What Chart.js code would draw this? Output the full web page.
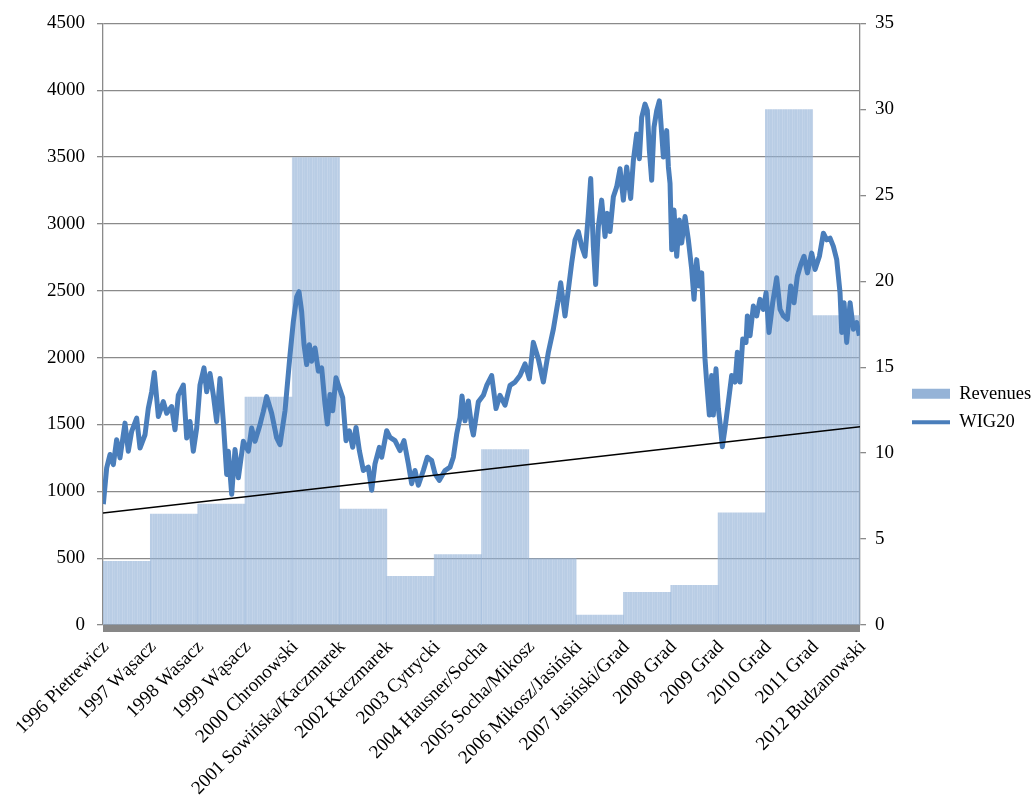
<!DOCTYPE html>
<html>
<head>
<meta charset="utf-8">
<script src="https://cdn.jsdelivr.net/npm/chart.js@4/dist/chart.umd.min.js"></script>
<style>
    body { margin: 0; background: #fff; }
    #wrap { width: 1031px; height: 798px; }
</style>
</head>
<body>
<div id="wrap"><canvas id="chart-wig"></canvas></div>
<script>
// x axis labels, one per year boundary
const xLabels = ['1996 Pietrewicz', '1997 Wąsacz', '1998 Wasacz', '1999 Wąsacz', '2000 Chronowski',
    '2001 Sowińska/Kaczmarek', '2002 Kaczmarek', '2003 Cytrycki', '2004 Hausner/Socha', '2005 Socha/Mikosz',
    '2006 Mikosz/Jasiński', '2007 Jasiński/Grad', '2008 Grad', '2009 Grad', '2010 Grad', '2011 Grad', '2012 Budzanowski'];

// revenues per year (right axis)
const barYears = ['1996', '1997', '1998', '1999', '2000', '2001', '2002', '2003',
    '2004', '2005', '2006', '2007', '2008', '2009', '2010', '2011'];
const revenues = [3.7, 6.46, 7.03, 13.26, 27.2, 6.75, 2.83, 4.09, 10.2, 3.86, 0.58, 1.9, 2.31, 6.52, 29.98, 18.0];

// WIG20 index (left axis), dates as fractional years
const wigDates = [1996.007, 1996.078, 1996.148, 1996.218, 1996.289, 1996.359, 1996.465, 1996.535, 1996.606, 1996.712, 1996.782, 1996.888, 1996.958,
    1997.029, 1997.085, 1997.170, 1997.275, 1997.346, 1997.451, 1997.522, 1997.592, 1997.698, 1997.769, 1997.839, 1997.909, 1997.980,
    1998.050, 1998.135, 1998.191, 1998.262, 1998.332, 1998.402, 1998.473, 1998.543, 1998.614, 1998.649, 1998.720, 1998.790, 1998.861, 1998.966,
    1999.072, 1999.142, 1999.213, 1999.318, 1999.389, 1999.459, 1999.565, 1999.671, 1999.741, 1999.847, 1999.953,
    2000.023, 2000.094, 2000.143, 2000.199, 2000.249, 2000.305, 2000.361, 2000.411, 2000.481, 2000.552, 2000.622, 2000.692, 2000.742, 2000.798, 2000.855, 2000.925, 2000.995,
    2001.066, 2001.136, 2001.207, 2001.277, 2001.348, 2001.418, 2001.503, 2001.608, 2001.679, 2001.749, 2001.841, 2001.890, 2001.996,
    2002.066, 2002.172, 2002.278, 2002.362, 2002.454, 2002.524, 2002.595, 2002.665, 2002.771, 2002.855, 2002.947,
    2003.018, 2003.109, 2003.229, 2003.335, 2003.405, 2003.476, 2003.546, 2003.588, 2003.652, 2003.722, 2003.793, 2003.828, 2003.933,
    2004.039, 2004.110, 2004.215, 2004.307, 2004.391, 2004.497, 2004.603, 2004.709, 2004.814, 2004.920,
    2005.011, 2005.096, 2005.202, 2005.307, 2005.413, 2005.519, 2005.624, 2005.674, 2005.765, 2005.836, 2005.906, 2005.977,
    2006.047, 2006.118, 2006.188, 2006.259, 2006.308, 2006.364, 2006.413, 2006.470, 2006.540, 2006.611, 2006.660, 2006.716, 2006.787, 2006.857, 2006.928, 2006.998,
    2007.069, 2007.153, 2007.210, 2007.280, 2007.337, 2007.386, 2007.456, 2007.505, 2007.548, 2007.597, 2007.646, 2007.703, 2007.759, 2007.844, 2007.914, 2007.950, 2007.985,
    2008.020, 2008.069, 2008.126, 2008.182, 2008.231, 2008.302, 2008.372, 2008.443, 2008.492, 2008.548, 2008.605, 2008.654, 2008.689, 2008.724, 2008.759, 2008.816, 2008.865, 2008.900, 2008.956,
    2009.006, 2009.055, 2009.091, 2009.147, 2009.218, 2009.288, 2009.359, 2009.408, 2009.464, 2009.521, 2009.591, 2009.619, 2009.676, 2009.746, 2009.816, 2009.887, 2009.957,
    2010.014, 2010.077, 2010.155, 2010.239, 2010.310, 2010.380, 2010.465, 2010.535, 2010.606, 2010.676, 2010.747, 2010.817, 2010.888, 2010.979,
    2011.050, 2011.142, 2011.226, 2011.297, 2011.367, 2011.437, 2011.508, 2011.578, 2011.614, 2011.663, 2011.719, 2011.790, 2011.860, 2011.931, 2011.987];
const wigValues = [904, 1176, 1275, 1200, 1386, 1250, 1510, 1300, 1448, 1547, 1324, 1423, 1621,
    1745, 1889, 1560, 1671, 1584, 1634, 1460, 1720, 1795, 1399, 1522, 1300, 1473,
    1795, 1923, 1745, 1881, 1720, 1522, 1844, 1522, 1126, 1300, 978, 1312, 1101, 1374,
    1300, 1473, 1374, 1498, 1597, 1708, 1584, 1399, 1349, 1602, 2022,
    2270, 2455, 2493, 2344, 2097, 1948, 2097, 1973, 2072, 1899, 1923, 1651, 1503, 1725, 1602, 1849, 1775,
    1701, 1379, 1453, 1329, 1478, 1305, 1156, 1181, 1008, 1206, 1329, 1255, 1453,
    1404, 1379, 1305, 1379, 1206, 1057, 1156, 1045, 1156, 1255, 1230,
    1131, 1082, 1156, 1181, 1255, 1428, 1552, 1713, 1527, 1676, 1478, 1421, 1669,
    1718, 1792, 1866, 1619, 1718, 1644, 1792, 1817, 1866, 1953,
    1842, 2114, 1990, 1817, 2040, 2213, 2436, 2560, 2312, 2510, 2708, 2881,
    2943, 2832, 2758, 3079, 3339, 2832, 2547, 2980, 3178, 2906, 3079, 2943, 3203, 3277, 3413, 3178,
    3426, 3191, 3475, 3673, 3488, 3797, 3896, 3847, 3550, 3327, 3723, 3847, 3921, 3500, 3698, 3426, 3302,
    2807, 3104, 2758, 3030, 2857, 3055, 2881, 2659, 2436, 2733, 2535, 2634, 2312, 1990, 1817, 1570, 1867, 1570, 1916,
    1619, 1470, 1334, 1470, 1669, 1867, 1817, 2040, 1817, 2139, 2114, 2312, 2164, 2386, 2312, 2436, 2361,
    2485, 2188, 2411, 2597, 2361, 2312, 2287, 2535, 2411, 2609, 2696, 2758, 2634, 2782,
    2659, 2758, 2931, 2881, 2894, 2832, 2733, 2485, 2188, 2411, 2114, 2411, 2213, 2262, 2164];

// linear trend line, two ends
const trendYears = [1996, 2012];
const trendValues = [838, 1483];

const serif = 'Liberation Serif, Times New Roman, serif';

// striped pale blue fill like the excel bars
const stripe = document.createElement('canvas');
stripe.width = 5;
stripe.height = 4;
const sctx = stripe.getContext('2d');
[0.66, 0.66, 0.56, 0.66, 0.61].forEach((a, i) => {
    sctx.fillStyle = 'rgba(149,179,215,' + a + ')';
    sctx.fillRect(i, 0, 1, 4);
});
const barFill = sctx.createPattern(stripe, 'repeat');

// dark grey floor under the plot area
const floorBand = {
    id: 'floorBand',
    afterDatasetsDraw(chart) {
        const area = chart.chartArea;
        const ctx = chart.ctx;
        ctx.save();
        ctx.fillStyle = '#878787';
        ctx.fillRect(area.left, area.bottom, area.right - area.left, 7);
        ctx.restore();
    }
};

new Chart(document.getElementById('chart-wig'), {
    type: 'line',
    plugins: [floorBand],
    data: {
        datasets: [
            {
                type: 'line',
                label: 'trend',
                data: trendYears.map((t, i) => ({ x: t, y: trendValues[i] })),
                xAxisID: 'x',
                yAxisID: 'y',
                borderColor: '#000',
                borderWidth: 1.5,
                pointRadius: 0
            },
            {
                type: 'line',
                label: 'WIG20',
                data: wigDates.map((t, i) => ({ x: t, y: wigValues[i] })),
                xAxisID: 'x',
                yAxisID: 'y',
                borderColor: '#4a7ebb',
                borderWidth: 5,
                borderJoinStyle: 'round',
                pointRadius: 0,
                tension: 0
            },
            {
                type: 'bar',
                label: 'Revenues',
                data: revenues,
                xAxisID: 'xBar',
                yAxisID: 'y1',
                backgroundColor: barFill,
                borderWidth: 0,
                grouped: false,
                barPercentage: 1,
                categoryPercentage: 1
            }
        ]
    },
    options: {
        responsive: true,
        maintainAspectRatio: false,
        animation: false,
        layout: { padding: { top: 18, left: 0, right: 0, bottom: 0 } },
        scales: {
            x: {
                type: 'linear',
                position: 'bottom',
                offset: false,
                min: 1996,
                max: 2012,
                afterFit: (scale) => { scale.height = 173; },
                grid: { display: false },
                border: { display: false },
                ticks: {
                    stepSize: 1,
                    autoSkip: false,
                    maxRotation: 45,
                    minRotation: 45,
                    padding: 3,
                    labelOffset: 3,
                    color: '#000',
                    font: { family: serif, size: 19 },
                    callback: (value) => xLabels[Math.round(value) - 1996]
                }
            },
            xBar: {
                type: 'category',
                labels: barYears,
                display: false,
                offset: true
            },
            y: {
                position: 'left',
                min: 0,
                max: 4500,
                afterFit: (scale) => { scale.width = 103; },
                grid: { color: '#8a8a8a', lineWidth: 1.3, tickLength: 6 },
                border: { color: '#8a8a8a', width: 1.3 },
                ticks: {
                    stepSize: 500,
                    padding: 12,
                    color: '#000',
                    font: { family: serif, size: 19 },
                    callback: (value) => String(value)
                }
            },
            y1: {
                position: 'right',
                min: 0,
                max: 35,
                afterFit: (scale) => { scale.width = 42; },
                grid: { drawOnChartArea: false, color: '#8a8a8a', lineWidth: 1.3, tickLength: 6 },
                border: { color: '#8a8a8a', width: 1.3 },
                ticks: {
                    stepSize: 5,
                    padding: 9,
                    color: '#000',
                    font: { family: serif, size: 19 },
                    callback: (value) => String(value)
                }
            }
        },
        plugins: {
            tooltip: { enabled: false },
            legend: {
                position: 'right',
                maxWidth: 129,
                labels: {
                    usePointStyle: true,
                    pointStyleWidth: 38,
                    boxWidth: 38,
                    boxHeight: 10,
                    padding: 10,
                    color: '#000',
                    font: { family: serif, size: 18.5 },
                    generateLabels: () => [
                        { text: 'Revenues', fillStyle: '#95b3d7', strokeStyle: '#95b3d7', lineWidth: 0, pointStyle: 'rect', datasetIndex: 2 },
                        { text: 'WIG20', fillStyle: '#4a7ebb', strokeStyle: '#4a7ebb', lineWidth: 4, pointStyle: 'line', datasetIndex: 1 }
                    ]
                }
            }
        }
    }
});
</script>
</body>
</html>
